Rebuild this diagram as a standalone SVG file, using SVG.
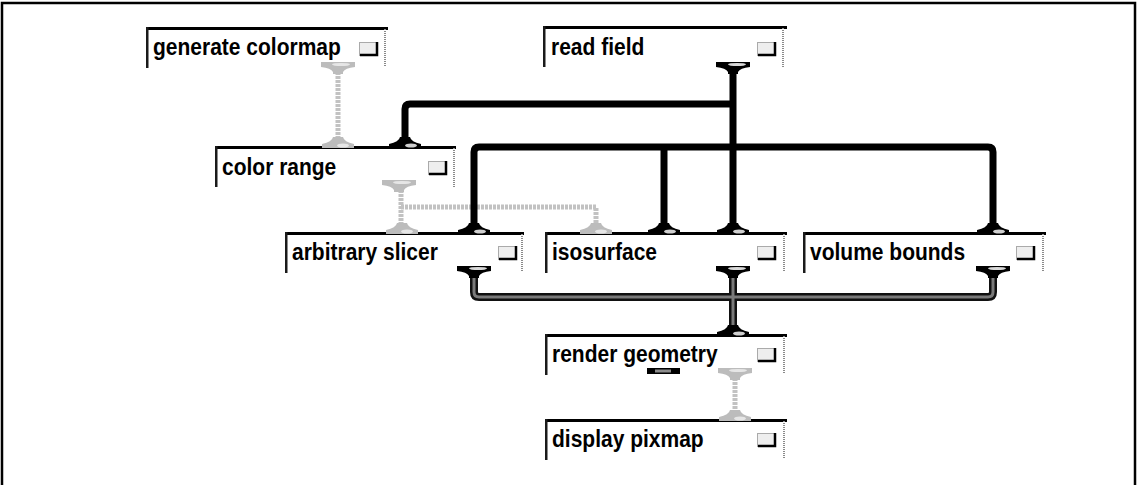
<svg xmlns="http://www.w3.org/2000/svg" xmlns:xlink="http://www.w3.org/1999/xlink" width="1139" height="485" viewBox="0 0 1139 485">
<style>
.frame{fill:none;stroke:#000;stroke-width:2.5}
.top{fill:#000}
.left{fill:#1a1a1a}
.rdot{stroke:#8a8a8a;stroke-width:2;stroke-dasharray:1 1}
.lbl{font-family:"Liberation Sans",Arial,sans-serif;font-weight:bold;font-size:21px;fill:#000}
.btnbg{fill:#eeeeee;stroke:#aaaaaa;stroke-width:1}
.btnedge{fill:none;stroke:#000;stroke-width:2.5}
.blk{fill:none;stroke:#000;stroke-width:7;stroke-linejoin:round}
.gry{fill:none;stroke:#c2c2c2;stroke-width:5;stroke-dasharray:3 1}
.dk1{fill:none;stroke:#111;stroke-width:8;stroke-linejoin:round}
.dk2{fill:none;stroke:#7a7a7a;stroke-width:3;stroke-linejoin:round}
</style>
<defs>
<g id="inB"><path d="M-5,-10 h10 q1,5 11,7 v4 h-32 v-4 q10,-2 11,-7 z" fill="#000"/><ellipse cx="6" cy="-1.5" rx="6" ry="2" fill="#cfcfcf"/></g>
<g id="inG"><path d="M-5,-10 h10 q1,5 11,7 v4 h-32 v-4 q10,-2 11,-7 z" fill="#bcbcbc"/><ellipse cx="5" cy="-1.5" rx="6" ry="2" fill="#e6e6e6"/></g>
<g id="outB"><path d="M-17,0 h34 v5 q-10,1 -12,5 v2 h-10 v-2 q-2,-4 -12,-5 z" fill="#000"/><ellipse cx="4" cy="2.5" rx="9" ry="1.6" fill="#d8d8d8"/></g>
<g id="outG"><path d="M-17,0 h34 v5 q-10,1 -12,5 v2 h-10 v-2 q-2,-4 -12,-5 z" fill="#bcbcbc"/><ellipse cx="3" cy="2.5" rx="9" ry="1.6" fill="#e6e6e6"/></g>
</defs>
<rect x="0" y="0" width="1139" height="485" fill="#fff"/>
<rect class="frame" x="2" y="3" width="1133" height="500"/>

<g id="connectors">
  <path class="gry" d="M338,72 V140"/>
  <path class="gry" d="M401,190 V226"/>
  <path class="gry" d="M401,207 H596 V226"/>
  <path class="blk" d="M733,72 V226"/>
  <path class="blk" d="M733,104 H410 Q405,104 405,109 V140"/>
  <path class="blk" d="M993,226 V152 Q993,147 988,147 H479 Q474,147 474,152 V226"/>
  <path class="blk" d="M664,147 V226"/>
  <path class="dk1" d="M474,276 V292 Q474,297 479,297 H988 Q993,297 993,292 V276"/>
  <path class="dk1" d="M733,276 V326"/>
  <path class="dk2" d="M474,276 V292 Q474,297 479,297 H988 Q993,297 993,292 V276"/>
  <path class="dk2" d="M733,276 V326"/>
  <path class="gry" d="M735,378 V412"/>
</g>

<g id="node-generate-colormap">
  <rect class="top" x="146" y="27" width="242" height="3"/>
  <rect class="left" x="146" y="27" width="2.5" height="41"/>
  <line class="rdot" x1="385" y1="29" x2="385" y2="67"/>
  <text class="lbl" transform="translate(153,55) scale(1,1.1)">generate colormap</text>
  <rect class="btnbg" x="359.5" y="42.5" width="17" height="13"/>
  <path class="btnedge" d="M360,55 H377 V42"/>
  <use xlink:href="#outG" x="338" y="62"/>
</g>

<g id="node-read-field">
  <rect class="top" x="543" y="26" width="244" height="3"/>
  <rect class="left" x="543" y="26" width="2.5" height="41"/>
  <line class="rdot" x1="783" y1="28" x2="783" y2="67"/>
  <text class="lbl" transform="translate(551,55) scale(1,1.1)">read field</text>
  <rect class="btnbg" x="757.5" y="42.5" width="17" height="13"/>
  <path class="btnedge" d="M758,55 H775 V42"/>
  <use xlink:href="#outB" x="733" y="62"/>
</g>

<g id="node-color-range">
  <rect class="top" x="215" y="146" width="241" height="3"/>
  <rect class="left" x="215" y="146" width="2.5" height="41"/>
  <line class="rdot" x1="454" y1="148" x2="454" y2="187"/>
  <text class="lbl" transform="translate(222,175) scale(1,1.1)">color range</text>
  <rect class="btnbg" x="428.5" y="161.5" width="17" height="13"/>
  <path class="btnedge" d="M429,174 H446 V161"/>
  <use xlink:href="#inG" x="338" y="147"/>
  <use xlink:href="#inB" x="405" y="147"/>
  <use xlink:href="#outG" x="399" y="180"/>
</g>

<g id="node-arbitrary-slicer">
  <rect class="top" x="285" y="232" width="239" height="3"/>
  <rect class="left" x="285" y="232" width="2.5" height="41"/>
  <line class="rdot" x1="522" y1="234" x2="522" y2="272"/>
  <text class="lbl" transform="translate(292,260) scale(1,1.1)">arbitrary slicer</text>
  <rect class="btnbg" x="498.5" y="246.5" width="17" height="13"/>
  <path class="btnedge" d="M499,259 H516 V246"/>
  <use xlink:href="#inG" x="402" y="233"/>
  <use xlink:href="#inB" x="474" y="233"/>
  <use xlink:href="#outB" x="474" y="266"/>
</g>

<g id="node-isosurface">
  <rect class="top" x="545" y="232" width="242" height="3"/>
  <rect class="left" x="545" y="232" width="2.5" height="41"/>
  <line class="rdot" x1="784" y1="234" x2="784" y2="272"/>
  <text class="lbl" transform="translate(552,260) scale(1,1.1)">isosurface</text>
  <rect class="btnbg" x="757.5" y="246.5" width="17" height="13"/>
  <path class="btnedge" d="M758,259 H775 V246"/>
  <use xlink:href="#inG" x="596" y="233"/>
  <use xlink:href="#inB" x="664" y="233"/>
  <use xlink:href="#inB" x="733" y="233"/>
  <use xlink:href="#outB" x="733" y="266"/>
</g>

<g id="node-volume-bounds">
  <rect class="top" x="803" y="232" width="243" height="3"/>
  <rect class="left" x="803" y="232" width="2.5" height="41"/>
  <line class="rdot" x1="1043" y1="234" x2="1043" y2="272"/>
  <text class="lbl" transform="translate(810,260) scale(1,1.1)">volume bounds</text>
  <rect class="btnbg" x="1016.5" y="246.5" width="17" height="13"/>
  <path class="btnedge" d="M1017,259 H1034 V246"/>
  <use xlink:href="#inB" x="993" y="233"/>
  <use xlink:href="#outB" x="993" y="266"/>
</g>

<g id="node-render-geometry">
  <rect class="top" x="545" y="334" width="242" height="3"/>
  <rect class="left" x="545" y="334" width="2.5" height="41"/>
  <line class="rdot" x1="784" y1="336" x2="784" y2="374"/>
  <text class="lbl" transform="translate(552,362) scale(1,1.1)">render geometry</text>
  <rect class="btnbg" x="757.5" y="348.5" width="17" height="13"/>
  <path class="btnedge" d="M758,361 H775 V348"/>
  <use xlink:href="#inB" x="733" y="335"/>
  <rect x="647" y="368" width="33" height="6" fill="#000"/>
  <rect x="655" y="369.5" width="16" height="3" fill="#8c8c8c"/>
  <use xlink:href="#outG" x="735" y="368"/>
</g>

<g id="node-display-pixmap">
  <rect class="top" x="545" y="419" width="242" height="3"/>
  <rect class="left" x="545" y="419" width="2.5" height="41"/>
  <line class="rdot" x1="784" y1="421" x2="784" y2="459"/>
  <text class="lbl" transform="translate(552,447) scale(1,1.1)">display pixmap</text>
  <rect class="btnbg" x="757.5" y="433.5" width="17" height="13"/>
  <path class="btnedge" d="M758,446 H775 V433"/>
  <use xlink:href="#inG" x="735" y="420"/>
</g>
</svg>
